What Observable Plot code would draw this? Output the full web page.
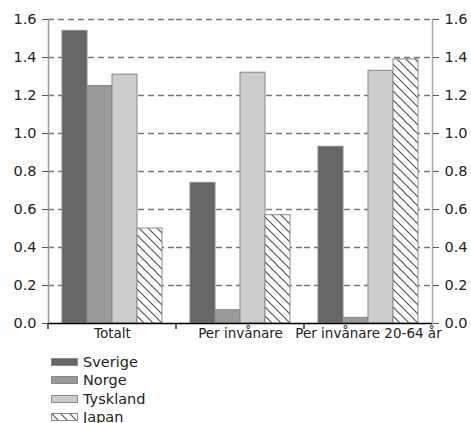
<!DOCTYPE html>
<html><head><meta charset="utf-8">
<script src="https://cdn.jsdelivr.net/npm/d3@7"></script>
<script src="https://cdn.jsdelivr.net/npm/@observablehq/plot@0.6"></script>
<style>
body{margin:0;background:#fff;font-family:"DejaVu Sans",Verdana,sans-serif;}
#chart svg{display:block}
.legend{margin-left:51px;padding-top:8px}
.row{display:flex;align-items:center;height:18.3px;font-size:14.5px;color:#222;line-height:18px}
.row svg{margin-right:5px;display:block}
</style></head><body><div id="chart"></div><script>
const categories = ["Totalt", "Per invånare", "Per invånare 20-64 år"];
const countries = ["Sverige", "Norge", "Tyskland", "Japan"];
const sverige = [1.54, 0.74, 0.93];
const norge = [1.25, 0.07, 0.03];
const tyskland = [1.31, 1.32, 1.33];
const japan = [0.50, 0.57, 1.39];
const yTicks = [0, 0.2, 0.4, 0.6, 0.8, 1.0, 1.2, 1.4, 1.6];
const fills = ["#666666", "#999999", "#cccccc", "url(#hatch)"];

const series = [sverige, norge, tyskland, japan];
const rows = categories.flatMap((c, i) => countries.map((k, j) => ({category: c, country: k, value: series[j][i]})));

const fmt = d3.format(".1f");

function boundaryTick(index, scales, values, dimensions) {
  const {marginLeft, height, marginBottom} = dimensions;
  const g = d3.create("svg:g");
  g.append("line")
    .attr("x1", marginLeft).attr("x2", marginLeft)
    .attr("y1", height - marginBottom).attr("y2", height - marginBottom + 6)
    .attr("stroke", "#000").attr("stroke-width", 1.2);
  return g.node();
}

const plot = Plot.plot({
  width: 471, height: 345,
  marginLeft: 47, marginRight: 38, marginTop: 19, marginBottom: 22,
  style: {fontFamily: "DejaVu Sans, Verdana, sans-serif", fontSize: "13px", color: "#222", background: "#fff"},
  fx: {domain: categories, padding: 0, label: null},
  x: {domain: countries, paddingInner: 0, paddingOuter: 0.47, axis: null},
  y: {domain: [0, 1.6], label: null},
  color: {domain: countries, range: fills},
  marks: [
    Plot.gridY(yTicks.slice(1), {stroke: "#777", strokeOpacity: 1, strokeWidth: 1.5, strokeDasharray: "6,4"}),
    Plot.barY(rows, {fx: "category", x: "country", y: "value", fill: "country", stroke: "#888", strokeWidth: 1}),
    Plot.frame({anchor: "left", facet: "super", stroke: "#999", strokeWidth: 1.5}),
    Plot.frame({anchor: "right", facet: "super", stroke: "#aaa", strokeWidth: 1.5}),
    Plot.ruleY([0], {stroke: "#000", strokeWidth: 1.5}),
    Plot.axisY(yTicks, {anchor: "left", label: null, tickFormat: fmt, tickSize: 6, tickPadding: 6, stroke: "#555", fill: "#222", fontSize: 14.5}),
    Plot.axisY(yTicks, {anchor: "right", label: null, tickFormat: fmt, tickSize: 6, tickPadding: 6, stroke: "#555", fill: "#222", fontSize: 14.5}),
    Plot.axisFx({anchor: "bottom", label: null, tickSize: 0, tickPadding: 5, fill: "#222", fontSize: 13.5}),
    boundaryTick
  ]
});

const svg = d3.select(plot);
const defs = svg.insert("defs", ":first-child");
const pat = defs.append("pattern").attr("id", "hatch").attr("patternUnits", "userSpaceOnUse")
  .attr("width", 9).attr("height", 9);
pat.append("rect").attr("width", 9).attr("height", 9).attr("fill", "#fff");
pat.append("path").attr("d", "M0,0L9,9M-2,7L2,11M7,-2L11,2").attr("stroke", "#555").attr("stroke-width", 1.2);

document.getElementById("chart").appendChild(plot);

const legend = d3.select("body").append("div").attr("class", "legend");
countries.forEach((c, i) => {
  const row = legend.append("div").attr("class", "row");
  const s = row.append("svg").attr("width", 27).attr("height", 8);
  if (i === 3) {
    const p = s.append("defs").append("pattern").attr("id", "hatchL").attr("patternUnits", "userSpaceOnUse")
      .attr("width", 9).attr("height", 9);
    p.append("rect").attr("width", 9).attr("height", 9).attr("fill", "#fff");
    p.append("path").attr("d", "M0,0L9,9M-2,7L2,11M7,-2L11,2").attr("stroke", "#555").attr("stroke-width", 1.2);
  }
  s.append("rect").attr("x", 0.5).attr("y", 0.5).attr("width", 26).attr("height", 7)
    .attr("fill", i === 3 ? "url(#hatchL)" : fills[i]).attr("stroke", "#888");
  row.append("span").text(c);
});
</script></body></html>
